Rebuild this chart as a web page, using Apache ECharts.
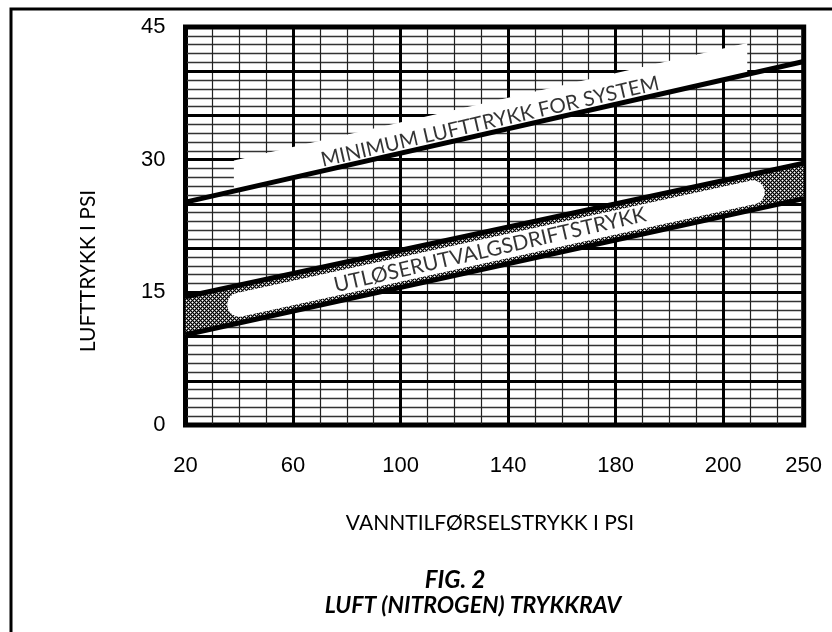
<!DOCTYPE html>
<html><head><meta charset="utf-8">
<script src="https://cdn.jsdelivr.net/npm/echarts@6/dist/echarts.min.js"></script>
<style>html,body{margin:0;padding:0;background:#fff}#c{width:832px;height:632px}</style>
</head><body><div id="c"></div>
<script>
// ---- data ----
const xTickLabels = ['20','60','100','140','180','200','250'];
const xTickUnits  = [0, 4, 8, 12, 16, 20, 23];      // grid-unit position of each x label
const yLabelValues = [0, 15, 30, 45];
const minAirLine  = [[0, 25.2], [23, 41.1]];
const bandLower   = [[0, 10.2], [23, 25.6]];
const bandUpper   = [[0, 14.5], [23, 29.6]];
const bandCapsule = [[2.0, 13.6], [21.1, 26.3]];
const minStripLow  = [[1.8, 26.4], [20.9, 39.7]];
const minStripHigh = [[1.8, 29.9], [20.9, 43.2]];
const bandLabelPos = [[11.33, 19.8]];
const minLabelPos  = [[11.33, 34.3]];
const bandLabelText = 'UTLØSERUTVALGSDRIFTSTRYKK';
const minLabelText  = 'MINIMUM LUFTTRYKK FOR SYSTEM';

// ---- hatch pattern ----
const pc = document.createElement('canvas'); pc.width = 4; pc.height = 4;
const g = pc.getContext('2d');
g.fillStyle = '#7a7a7a'; g.fillRect(0, 0, 4, 4); g.fillStyle = '#000';
for (let x = 0; x < 4; x++) for (let y = 0; y < 4; y++)
  if ((x + y) % 4 === 0 || (x - y + 4) % 4 === 0) g.fillRect(x, y, 1, 1);
g.fillStyle = '#fff'; g.fillRect(2, 0, 1, 1); g.fillRect(0, 2, 1, 1);
const hatch = { image: pc, repeat: 'repeat' };

function polySeries(lower, upper, fill, z) {
  return {
    type: 'custom', xAxisIndex: 1, yAxisIndex: 1, z: z, silent: true,
    data: [[lower[0][0], lower[0][1]]],
    renderItem: function (params, api) {
      const pts = lower.map(p => api.coord(p)).concat(upper.slice().reverse().map(p => api.coord(p)));
      return { type: 'polygon', shape: { points: pts }, style: { fill: fill, stroke: null } };
    }
  };
}
function lineSeries(data, width, color, z, cap) {
  return {
    type: 'line', xAxisIndex: 1, yAxisIndex: 1, z: z, data: data, symbol: 'none', silent: true,
    lineStyle: { width: width, color: color, cap: cap || 'butt' }
  };
}
function labelSeries(pos, text, z, size) {
  return {
    type: 'scatter', xAxisIndex: 1, yAxisIndex: 1, z: z, data: pos, symbolSize: 0, silent: true,
    label: { show: true, position: 'inside', formatter: text, rotate: 12.9, color: '#000',
      fontFamily: 'Lato', fontSize: size }
  };
}

const labelFont = { color: '#000', fontFamily: 'Liberation Sans', fontSize: 22 };
const chart = echarts.init(document.getElementById('c'), null, { renderer: 'canvas' });
chart.setOption({
  animation: false,
  backgroundColor: '#fff',
  grid: { left: 185.5, right: 28.3, top: 27, bottom: 207, show: true, borderColor: '#000', borderWidth: 5, backgroundColor: 'transparent' },
  xAxis: [
    { type: 'value', position: 'bottom', min: 0, max: 23, interval: 1, z: 0,
      axisLine: { show: false }, axisTick: { show: false }, axisLabel: { show: false },
      splitLine: { show: true, lineStyle: { color: '#222', width: 1.2 } } },
    { type: 'value', position: 'bottom', min: 0, max: 23, interval: 4, z: 1,
      axisLine: { show: false }, axisTick: { show: false },
      axisLabel: Object.assign({ margin: 30, showMinLabel: true, showMaxLabel: true,
        formatter: function (v) { const i = xTickUnits.indexOf(Math.round(v * 100) / 100); return i >= 0 ? xTickLabels[i] : ''; } }, labelFont),
      splitLine: { show: true, lineStyle: { color: '#000', width: 3 } } }
  ],
  yAxis: [
    { type: 'value', position: 'left', min: 0, max: 45, interval: 1, z: 0,
      axisLine: { show: false }, axisTick: { show: false }, axisLabel: { show: false },
      splitLine: { show: true, lineStyle: { color: '#333', width: 1.4 } } },
    { type: 'value', position: 'left', min: 0, max: 45, interval: 5, z: 1,
      axisLine: { show: false }, axisTick: { show: false },
      axisLabel: Object.assign({ margin: 20,
        formatter: function (v) { return yLabelValues.indexOf(v) >= 0 ? String(v) : ''; } }, labelFont),
      splitLine: { show: true, lineStyle: { color: '#000', width: 3 } } }
  ],
  graphic: [
    { type: 'rect', silent: true, z: 100, shape: { x: 11, y: 9, width: 900, height: 700 },
      style: { fill: 'none', stroke: '#000', lineWidth: 3 } },
    { type: 'text', x: 88, y: 271, rotation: Math.PI / 2, silent: true,
      style: { text: 'LUFTTRYKK I PSI', fontFamily: 'Lato', fontSize: 21, fill: '#000', align: 'center', verticalAlign: 'middle' } },
    { type: 'text', x: 490, y: 523, silent: true,
      style: { text: 'VANNTILFØRSELSTRYKK I PSI', fontFamily: 'Lato', fontSize: 21, fill: '#000', align: 'center', verticalAlign: 'middle' } },
    { type: 'text', x: 455, y: 580, silent: true,
      style: { text: 'FIG. 2', fontFamily: 'Lato', fontSize: 24, fontWeight: 'bold', fontStyle: 'italic', fill: '#000', align: 'center', verticalAlign: 'middle' } },
    { type: 'text', x: 473, y: 606, silent: true,
      style: { text: 'LUFT (NITROGEN) TRYKKRAV', fontFamily: 'Lato', fontSize: 23, fontWeight: 'bold', fontStyle: 'italic', fill: '#000', align: 'center', verticalAlign: 'middle' } }
  ],
  series: [
    polySeries(bandLower, bandUpper, hatch, 2),
    polySeries(minStripLow, minStripHigh, '#fff', 2),
    lineSeries(bandCapsule, 24, '#fff', 3, 'round'),
    lineSeries(bandLower, 5, '#000', 4),
    lineSeries(bandUpper, 5, '#000', 4),
    lineSeries(minAirLine, 5, '#000', 4),
    labelSeries(bandLabelPos, bandLabelText, 5, 21),
    labelSeries(minLabelPos, minLabelText, 5, 20.5)
  ]
});
</script></body></html>
